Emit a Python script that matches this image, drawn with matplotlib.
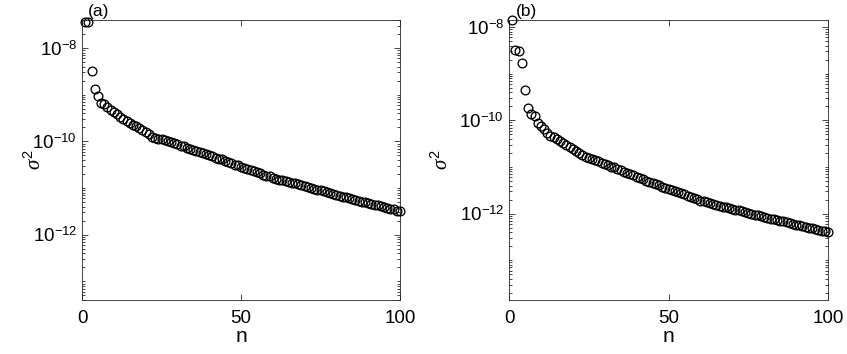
import matplotlib
matplotlib.use("Agg")
import matplotlib.pyplot as plt
import matplotlib.ticker as mticker
import numpy as np

plt.rcParams["font.family"] = ["Liberation Sans", "DejaVu Sans"]
plt.rcParams["mathtext.fontset"] = "custom"
plt.rcParams["mathtext.it"] = "Liberation Serif:italic"
plt.rcParams["mathtext.rm"] = "Liberation Sans"

# index of each singular value
n = list(range(1, 101))

# panel (a) sigma^2
sigma2_a = [
    3.7e-8, 3.55e-8, 3.3e-9, 1.32e-9, 9.3e-10, 6.8e-10, 6.2e-10, 5.4e-10, 4.8e-10, 4.3e-10,
    3.8e-10, 3.4e-10, 3.0e-10, 2.75e-10, 2.5e-10, 2.3e-10, 2.1e-10, 1.9e-10, 1.74e-10, 1.58e-10,
    1.41e-10, 1.26e-10, 1.2e-10, 1.15e-10, 1.1e-10, 1.07e-10, 1.02e-10, 9.8e-11, 9.1e-11, 8.7e-11,
    8.1e-11, 7.8e-11, 7.4e-11, 6.9e-11, 6.6e-11, 6.3e-11, 6.0e-11, 5.75e-11, 5.5e-11, 5.1e-11,
    4.8e-11, 4.5e-11, 4.3e-11, 4.1e-11, 3.9e-11, 3.6e-11, 3.4e-11, 3.2e-11, 3.1e-11, 2.9e-11,
    2.75e-11, 2.6e-11, 2.5e-11, 2.35e-11, 2.25e-11, 2.1e-11, 1.95e-11, 1.86e-11, 1.78e-11, 1.66e-11,
    1.58e-11, 1.51e-11, 1.48e-11, 1.41e-11, 1.35e-11, 1.29e-11, 1.26e-11, 1.2e-11, 1.15e-11, 1.1e-11,
    1.05e-11, 1.0e-11, 9.8e-12, 9.3e-12, 8.9e-12, 8.5e-12, 8.1e-12, 7.9e-12, 7.6e-12, 7.2e-12,
    6.9e-12, 6.6e-12, 6.3e-12, 6.0e-12, 5.9e-12, 5.6e-12, 5.4e-12, 5.1e-12, 5.0e-12, 4.8e-12,
    4.6e-12, 4.4e-12, 4.3e-12, 4.1e-12, 3.9e-12, 3.8e-12, 3.6e-12, 3.5e-12, 3.3e-12, 3.2e-12,
]

# panel (b) sigma^2
sigma2_b = [
    1.41e-8, 3.2e-9, 3.1e-9, 1.74e-9, 4.5e-10, 1.86e-10, 1.35e-10, 1.23e-10, 8.9e-11, 7.6e-11,
    6.6e-11, 5.25e-11, 4.7e-11, 4.3e-11, 3.9e-11, 3.55e-11, 3.2e-11, 2.95e-11, 2.7e-11, 2.45e-11,
    2.2e-11, 1.95e-11, 1.78e-11, 1.66e-11, 1.58e-11, 1.51e-11, 1.41e-11, 1.32e-11, 1.23e-11, 1.15e-11,
    1.1e-11, 1.02e-11, 9.8e-12, 9.1e-12, 8.5e-12, 7.9e-12, 7.6e-12, 7.1e-12, 6.6e-12, 6.2e-12,
    5.75e-12, 5.4e-12, 5.1e-12, 4.8e-12, 4.6e-12, 4.3e-12, 4.1e-12, 3.8e-12, 3.6e-12, 3.4e-12,
    3.2e-12, 3.0e-12, 2.9e-12, 2.7e-12, 2.6e-12, 2.4e-12, 2.3e-12, 2.15e-12, 2.05e-12, 1.9e-12,
    1.82e-12, 1.74e-12, 1.66e-12, 1.58e-12, 1.55e-12, 1.48e-12, 1.41e-12, 1.38e-12, 1.32e-12, 1.26e-12,
    1.2e-12, 1.17e-12, 1.12e-12, 1.07e-12, 1.02e-12, 1.0e-12, 9.5e-13, 9.1e-13, 8.7e-13, 8.5e-13,
    8.1e-13, 7.8e-13, 7.6e-13, 7.2e-13, 7.1e-13, 6.8e-13, 6.5e-13, 6.3e-13, 6.0e-13, 5.75e-13,
    5.6e-13, 5.4e-13, 5.1e-13, 5.0e-13, 4.8e-13, 4.7e-13, 4.5e-13, 4.3e-13, 4.2e-13, 4.0e-13,
]

panel_labels = ["(a)", "(b)"]
ylims = [(4e-14, 4e-8), (1.4e-14, 1.42e-8)]
yticks = [1e-12, 1e-10, 1e-8]
ytick_labels = [r"$10^{-12}$", r"$10^{-10}$", r"$10^{-8}$"]
xticks = [0, 50, 100]

AX_COLOR = "#262626"

fig = plt.figure(figsize=(8.47, 3.54), dpi=100)
ax_a = fig.add_axes([82 / 847, 1 - 300 / 354, 318 / 847, 280 / 354])
ax_b = fig.add_axes([509 / 847, 1 - 300 / 354, 319 / 847, 280 / 354])

# ylabel x position in axes fraction, per panel
ylabel_x = [-0.117, -0.179]

for ax, data, lab, yl, lx in zip([ax_a, ax_b], [sigma2_a, sigma2_b], panel_labels, ylims, ylabel_x):
    ax.plot(n, data, linestyle="none", marker="o", markersize=6.3,
            markerfacecolor="none", markeredgecolor="black", markeredgewidth=0.95,
            clip_on=False, zorder=3)
    ax.set_yscale("log")
    ax.set_xlim(0, 100)
    ax.set_ylim(*yl)
    ax.set_xticks(xticks)
    ax.set_yticks(yticks)
    ax.set_yticklabels(ytick_labels)
    ax.yaxis.set_minor_locator(mticker.LogLocator(base=10, subs=np.arange(1, 10), numticks=50))
    ax.yaxis.set_minor_formatter(mticker.NullFormatter())
    ax.tick_params(which="both", direction="in", top=True, right=True,
                   color=AX_COLOR, labelcolor="black", labelsize=13.5, width=0.6)
    ax.tick_params(which="major", length=4)
    ax.tick_params(which="minor", length=2)
    ax.tick_params(axis="x", pad=7)
    for sp in ax.spines.values():
        sp.set_color(AX_COLOR)
        sp.set_linewidth(0.6)
    ax.set_xlabel("n", fontsize=15, labelpad=0)
    ax.set_ylabel(r"$\sigma^2$", fontsize=15)
    ax.yaxis.set_label_coords(lx, 0.5)
    ax.text(0.02, 1.005, lab, transform=ax.transAxes, fontsize=12.5,
            ha="left", va="bottom")

fig.savefig("out.png", dpi=100)
plt.close(fig)
